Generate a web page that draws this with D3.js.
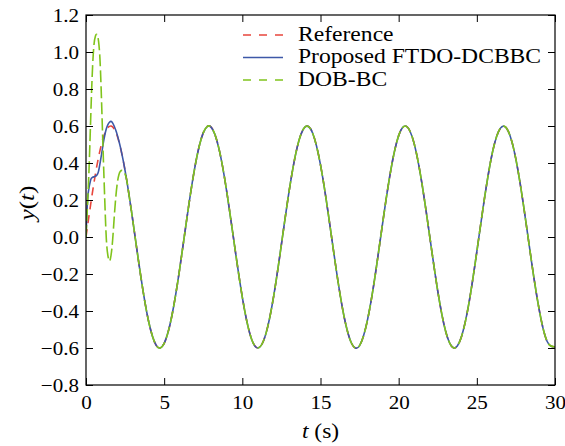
<!DOCTYPE html>
<html>
<head>
<meta charset="utf-8">
<script src="https://cdn.jsdelivr.net/npm/d3@7"></script>
<style>
  body { margin: 0; background: #fff; }
</style>
</head>
<body>
<div id="chart"></div>
<script>
// transient part, t = 0 .. 3 s every 0.1 s
const tStart = [0, 0.1, 0.2, 0.3, 0.4, 0.5, 0.6, 0.7, 0.8, 0.9, 1.0,
                1.1, 1.2, 1.3, 1.4, 1.5, 1.6, 1.7, 1.8, 1.9, 2.0,
                2.1, 2.2, 2.3, 2.4, 2.5, 2.6, 2.7, 2.8, 2.9, 3.0];
const refStart = [0, 0.060, 0.119, 0.177, 0.234, 0.288, 0.339, 0.387, 0.430, 0.470, 0.505,
                  0.535, 0.559, 0.578, 0.591, 0.598, 0.600, 0.595, 0.584, 0.568, 0.546,
                  0.518, 0.485, 0.447, 0.405, 0.359, 0.309, 0.256, 0.201, 0.144, 0.085];
const ftdoStart = [0, 0.20, 0.27, 0.31, 0.322, 0.325, 0.328, 0.335, 0.355, 0.40, 0.45,
                   0.505, 0.55, 0.585, 0.608, 0.620, 0.625, 0.617, 0.600, 0.578, 0.552,
                   0.520, 0.486, 0.447, 0.405, 0.359, 0.309, 0.256, 0.201, 0.144, 0.085];
const dobStart = [0, 0.18, 0.38, 0.64, 0.88, 1.03, 1.085, 1.095, 1.06, 0.95, 0.72,
                  0.45, 0.20, -0.01, -0.10, -0.13, -0.10, -0.02, 0.10, 0.21, 0.29,
                  0.335, 0.355, 0.36, 0.355, 0.34, 0.31, 0.256, 0.201, 0.144, 0.085];

// steady part, t = 3.5 .. 30 s every 0.5 s (all three curves lie on top of each other)
const tSteady = [3.5, 4, 4.5, 5, 5.5, 6, 6.5, 7, 7.5, 8, 8.5, 9, 9.5, 10,
                 10.5, 11, 11.5, 12, 12.5, 13, 13.5, 14, 14.5, 15, 15.5, 16, 16.5, 17,
                 17.5, 18, 18.5, 19, 19.5, 20, 20.5, 21, 21.5, 22, 22.5, 23, 23.5, 24,
                 24.5, 25, 25.5, 26, 26.5, 27, 27.5, 28, 28.5, 29, 29.5, 30];
const ySteady = [-0.210, -0.454, -0.587, -0.575, -0.423, -0.168, 0.129, 0.394, 0.563, 0.594, 0.479, 0.247, -0.045, -0.326,
                 -0.528, -0.600, -0.525, -0.322, -0.040, 0.252, 0.482, 0.594, 0.561, 0.390, 0.124, -0.173, -0.427, -0.577,
                 -0.587, -0.451, -0.206, 0.090, 0.363, 0.548, 0.598, 0.502, 0.283, -0.005, -0.292, -0.508, -0.599, -0.543,
                 -0.355, -0.079, 0.215, 0.458, 0.587, 0.574, 0.420, 0.163, -0.134, -0.398, -0.565, -0.593];

const xTicks = [0, 5, 10, 15, 20, 25, 30];
const yTicks = [-0.8, -0.6, -0.4, -0.2, 0.0, 0.2, 0.4, 0.6, 0.8, 1.0, 1.2];

const seriesNames = ['Reference', 'Proposed FTDO-DCBBC', 'DOB-BC'];
const seriesColors = ['#e8453c', '#3d58a8', '#80c41c'];
const seriesDash = ['8,6', null, '12,4'];

const width = 565, height = 446;
const margin = { top: 15, right: 10, bottom: 61, left: 86 };
const serif = '"Liberation Serif", "Times New Roman", Times, serif';

const x = d3.scaleLinear().domain([0, 30]).range([margin.left, width - margin.right]);
const y = d3.scaleLinear().domain([-0.8, 1.2]).range([height - margin.bottom, margin.top]);

const svg = d3.select('#chart').append('svg')
    .attr('width', width)
    .attr('height', height)
    .attr('font-family', serif);

function toPoints(tArr, yArr) {
    return tArr.map((t, i) => [t, yArr[i]]);
}
const steady = toPoints(tSteady, ySteady);
const series = [
    toPoints(tStart, refStart).concat(steady),
    toPoints(tStart, ftdoStart).concat(steady),
    toPoints(tStart, dobStart).concat(steady)
];

// clip to the axes box
svg.append('clipPath').attr('id', 'clip')
    .append('rect')
    .attr('x', margin.left).attr('y', margin.top)
    .attr('width', width - margin.left - margin.right)
    .attr('height', height - margin.top - margin.bottom);

const line = d3.line()
    .x(d => x(d[0]))
    .y(d => y(d[1]))
    .curve(d3.curveNatural);

svg.append('g').attr('clip-path', 'url(#clip)')
    .selectAll('path')
    .data(series)
    .enter()
    .append('path')
    .attr('d', line)
    .attr('fill', 'none')
    .attr('stroke', (d, i) => seriesColors[i])
    .attr('stroke-width', 1.6)
    .attr('stroke-dasharray', (d, i) => seriesDash[i]);

// axes, ticks pointing inward on all four sides
const tickLen = 7;
const fmt = d3.format('.1f');

const axBottom = svg.append('g')
    .attr('transform', `translate(0,${height - margin.bottom})`)
    .call(d3.axisBottom(x).tickValues(xTicks).tickSizeInner(-tickLen).tickSizeOuter(0).tickPadding(10));
const axTop = svg.append('g')
    .attr('transform', `translate(0,${margin.top})`)
    .call(d3.axisTop(x).tickValues(xTicks).tickSizeInner(-tickLen).tickSizeOuter(0).tickFormat(''));
const axLeft = svg.append('g')
    .attr('transform', `translate(${margin.left},0)`)
    .call(d3.axisLeft(y).tickValues(yTicks).tickSizeInner(-tickLen).tickSizeOuter(0).tickPadding(7).tickFormat(fmt));
const axRight = svg.append('g')
    .attr('transform', `translate(${width - margin.right},0)`)
    .call(d3.axisRight(y).tickValues(yTicks).tickSizeInner(-tickLen).tickSizeOuter(0).tickFormat(''));

[axBottom, axTop, axLeft, axRight].forEach(g => {
    g.attr('font-family', serif).attr('font-size', 19.5);
    g.select('.domain').remove();
    g.selectAll('line').attr('stroke', '#000').attr('stroke-width', 1);
    g.selectAll('text').attr('fill', '#000');
});
// the original type is a little wider than Liberation Serif
const tickStretch = 1.08;
axBottom.selectAll('text').attr('transform', `scale(${tickStretch},1)`);
axLeft.selectAll('text')
    .attr('x', -7 / tickStretch)
    .attr('transform', `scale(${tickStretch},1)`);

// frame
svg.append('rect')
    .attr('x', margin.left).attr('y', margin.top)
    .attr('width', width - margin.left - margin.right)
    .attr('height', height - margin.top - margin.bottom)
    .attr('fill', 'none')
    .attr('stroke', '#000')
    .attr('stroke-width', 1.2);

// axis labels
const xl = svg.append('text')
    .attr('transform', `translate(${(margin.left + width - margin.right) / 2},438) scale(1.12,1)`)
    .attr('text-anchor', 'middle')
    .attr('font-size', 21);
xl.append('tspan').attr('font-style', 'italic').text('t');
xl.append('tspan').text(' (s)');

const yl = svg.append('text')
    .attr('transform', `translate(34,203) rotate(-90) scale(1.2,1)`)
    .attr('text-anchor', 'middle')
    .attr('font-size', 21);
yl.append('tspan').attr('font-style', 'italic').text('y');
yl.append('tspan').text('(');
yl.append('tspan').attr('font-style', 'italic').text('t');
yl.append('tspan').text(')');

// legend
const legend = svg.append('g');
seriesNames.forEach((name, i) => {
    const ly = 35 + i * 22.5;
    legend.append('line')
        .attr('x1', 243).attr('x2', 283)
        .attr('y1', ly).attr('y2', ly)
        .attr('stroke', seriesColors[i])
        .attr('stroke-width', 1.6)
        .attr('stroke-dasharray', seriesDash[i] ? '8,8' : null);
    legend.append('text')
        .attr('transform', `translate(298,${ly + 5.5}) scale(1.18,1)`)
        .attr('font-size', 20)
        .text(name);
});
</script>
</body>
</html>
